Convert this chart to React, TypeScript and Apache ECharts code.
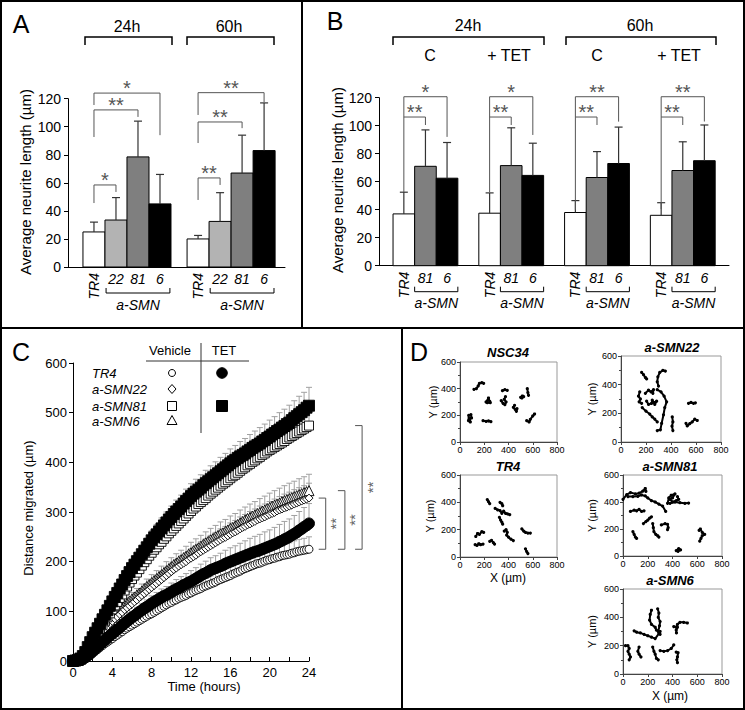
import React, { useEffect, useRef } from "react";
import * as echarts from "echarts";

const FONT = "'Liberation Sans', Arial, Helvetica, sans-serif";
const font = (size: number, style = "normal", weight = "normal") => `${style} ${weight} ${size}px ${FONT}`;

// ---------------- Panel A data ----------------
const A_TIMES = ["24h", "60h"];
const A_LINES = ["TR4", "22", "81", "6"];
const A_MEAN = [
  [25, 33.5, 78.5, 45],
  [20, 32.5, 67, 83],
];
const A_SD = [
  [7, 16, 25.5, 21],
  [2.5, 20.5, 27, 34],
];
// [time group, bar a, bar b, bracket top, left leg end, right leg end]
const A_SIG = [
  [0, 0, 1, 58.5, 45.6, 53.5],
  [0, 0, 2, 112, 92.7, 107],
  [0, 0, 3, 124, 115.5, 94],
  [1, 0, 1, 63.5, 47.8, 58.5],
  [1, 0, 2, 103.4, 88.4, 99],
  [1, 0, 3, 124.3, 108.4, 117.6],
];
const A_SIG_LABEL = ["*", "**", "*", "**", "**", "**"];

// ---------------- Panel B data ----------------
const B_TIMES = ["24h", "60h"];
const B_CONDITIONS = ["C", "+ TET", "C", "+ TET"];
const B_LINES = ["TR4", "81", "6"];
const B_MEAN = [
  [37, 71, 62.5],
  [37.5, 71.5, 64.5],
  [38, 63, 73],
  [36, 68, 75],
];
const B_SD = [
  [15.5, 26, 25.5],
  [14.5, 27, 23],
  [8.5, 18.5, 26],
  [9, 20.5, 25.5],
];
const B_SIG = [
  [0, 0, 1, 106.2, 52.6, 100.5],
  [0, 0, 2, 120.7, 106.2, 92],
  [1, 0, 1, 106.2, 52.6, 100.5],
  [1, 0, 2, 120.7, 106.2, 93.4],
  [2, 0, 1, 106.2, 40, 100.5],
  [2, 0, 2, 120.7, 106.2, 102.9],
  [3, 0, 1, 106.2, 40.5, 100.5],
  [3, 0, 2, 120.7, 106.2, 103],
];
const B_SIG_LABEL = ["**", "*", "**", "*", "**", "**", "**", "**"];

// ---------------- Panel C data ----------------
const HOURS = [0, 0.25, 0.5, 0.75, 1, 1.25, 1.5, 1.75, 2, 2.25, 2.5, 2.75, 3, 3.25, 3.5, 3.75, 4, 4.25, 4.5, 4.75, 5, 5.25, 5.5, 5.75, 6, 6.25, 6.5, 6.75, 7, 7.25, 7.5, 7.75, 8, 8.25, 8.5, 8.75, 9, 9.25, 9.5, 9.75, 10, 10.25, 10.5, 10.75, 11, 11.25, 11.5, 11.75, 12, 12.25, 12.5, 12.75, 13, 13.25, 13.5, 13.75, 14, 14.25, 14.5, 14.75, 15, 15.25, 15.5, 15.75, 16, 16.25, 16.5, 16.75, 17, 17.25, 17.5, 17.75, 18, 18.25, 18.5, 18.75, 19, 19.25, 19.5, 19.75, 20, 20.25, 20.5, 20.75, 21, 21.25, 21.5, 21.75, 22, 22.25, 22.5, 22.75, 23, 23.25, 23.5, 23.75, 24];
const TR4_VEH = [0, 0, 1, 2, 3, 5, 8, 11, 15, 19, 23, 27, 31, 35, 38, 42, 45, 49, 52, 56, 59, 63, 66, 69, 72, 75, 78, 81, 84, 87, 90, 93, 95, 98, 101, 104, 107, 110, 113, 116, 118, 121, 123, 126, 128, 130, 132, 135, 137, 140, 142, 144, 146, 149, 151, 153, 155, 157, 159, 162, 164, 166, 168, 170, 172, 175, 177, 179, 181, 184, 186, 188, 190, 192, 194, 196, 197, 199, 201, 203, 204, 206, 207, 209, 210, 212, 213, 214, 215, 217, 218, 220, 221, 222, 223, 224, 225];
const TR4_TET = [0, 0, 1, 2, 4, 7, 11, 15, 20, 24, 29, 33, 38, 42, 47, 51, 55, 59, 63, 67, 72, 76, 80, 84, 88, 91, 95, 99, 102, 106, 109, 112, 116, 119, 122, 125, 128, 131, 133, 136, 139, 142, 145, 147, 150, 153, 155, 158, 160, 163, 166, 169, 172, 175, 177, 180, 183, 185, 187, 189, 191, 193, 196, 198, 200, 202, 204, 206, 208, 210, 212, 214, 216, 218, 220, 221, 223, 225, 227, 229, 231, 233, 235, 237, 240, 242, 245, 247, 250, 253, 256, 259, 263, 266, 270, 273, 277];
const SMN22_VEH = [0, 0, 1, 3, 6, 11, 18, 25, 33, 39, 45, 51, 57, 63, 69, 75, 80, 85, 89, 94, 98, 103, 107, 111, 115, 119, 123, 128, 132, 136, 140, 144, 148, 152, 156, 160, 164, 168, 172, 176, 180, 184, 187, 191, 194, 197, 200, 204, 207, 210, 213, 217, 220, 223, 226, 229, 232, 235, 238, 241, 244, 247, 249, 252, 255, 258, 260, 263, 266, 269, 271, 274, 276, 279, 281, 284, 286, 288, 290, 293, 295, 297, 299, 302, 304, 306, 308, 310, 312, 314, 316, 318, 320, 322, 324, 326, 328];
const SMN81_VEH = [0, 1, 2, 4, 8, 14, 22, 31, 40, 48, 56, 64, 72, 80, 88, 96, 104, 112, 119, 127, 134, 142, 150, 158, 165, 172, 178, 185, 192, 199, 205, 212, 218, 224, 229, 235, 240, 246, 251, 257, 262, 267, 272, 277, 282, 287, 292, 297, 302, 307, 311, 316, 320, 324, 328, 333, 337, 341, 345, 349, 353, 357, 360, 364, 368, 372, 375, 379, 383, 387, 390, 394, 397, 401, 404, 408, 411, 415, 418, 422, 425, 428, 431, 434, 437, 440, 443, 447, 450, 453, 456, 459, 462, 465, 468, 471, 474];
const SMN81_TET = [0, 1, 2, 5, 10, 18, 28, 38, 48, 57, 66, 75, 84, 93, 102, 111, 120, 129, 137, 146, 154, 163, 171, 179, 187, 194, 201, 208, 215, 222, 229, 236, 243, 249, 255, 261, 267, 273, 279, 285, 290, 296, 301, 306, 311, 317, 322, 327, 332, 337, 341, 345, 349, 354, 358, 362, 366, 370, 374, 378, 382, 386, 390, 394, 398, 402, 405, 409, 412, 415, 418, 422, 425, 429, 432, 435, 438, 442, 445, 449, 452, 456, 459, 463, 466, 470, 473, 477, 480, 485, 489, 493, 497, 501, 505, 510, 514];
const SMN6_VEH = [0, 1, 2, 4, 8, 14, 22, 30, 38, 45, 51, 57, 63, 70, 76, 82, 88, 93, 98, 103, 107, 112, 116, 121, 125, 129, 133, 137, 141, 146, 150, 154, 158, 162, 166, 170, 174, 178, 182, 186, 190, 194, 197, 201, 204, 208, 211, 215, 218, 222, 225, 228, 231, 235, 238, 241, 244, 247, 250, 253, 256, 258, 261, 264, 267, 269, 272, 275, 278, 281, 284, 287, 289, 292, 294, 297, 299, 302, 304, 307, 309, 312, 314, 316, 318, 321, 323, 325, 327, 329, 331, 333, 335, 337, 339, 341, 343];
// standard deviations, every half hour
const SD_HOURS = [0, 0.5, 1, 1.5, 2, 2.5, 3, 3.5, 4, 4.5, 5, 5.5, 6, 6.5, 7, 7.5, 8, 8.5, 9, 9.5, 10, 10.5, 11, 11.5, 12, 12.5, 13, 13.5, 14, 14.5, 15, 15.5, 16, 16.5, 17, 17.5, 18, 18.5, 19, 19.5, 20, 20.5, 21, 21.5, 22, 22.5, 23, 23.5, 24];
const SD_TR4_VEH = [0, 0, 1, 1, 2, 3, 4, 5, 5, 6, 7, 7, 8, 8, 9, 10, 10, 11, 11, 12, 12, 13, 13, 14, 14, 15, 15, 16, 16, 17, 17, 17, 18, 18, 19, 19, 20, 20, 21, 21, 21, 22, 22, 23, 23, 24, 24, 24, 25];
const SD_TR4_TET = [0, 0, 1, 2, 3, 4, 5, 6, 7, 8, 9, 10, 11, 12, 13, 14, 15, 16, 17, 17, 18, 19, 20, 21, 22, 22, 23, 24, 25, 25, 26, 27, 28, 28, 29, 30, 31, 31, 32, 33, 33, 34, 35, 36, 36, 37, 38, 39, 40];
const SD_SMN22_VEH = [0, 0, 1, 2, 3, 4, 5, 7, 8, 9, 10, 11, 11, 12, 13, 14, 14, 15, 16, 16, 17, 17, 18, 18, 19, 19, 20, 20, 21, 21, 22, 22, 23, 23, 24, 24, 25, 25, 26, 26, 26, 27, 27, 28, 28, 29, 29, 29, 30];
const SD_SMN81_VEH = [0, 0, 1, 2, 4, 5, 7, 8, 9, 10, 11, 12, 13, 14, 14, 15, 16, 16, 17, 18, 18, 19, 19, 20, 20, 21, 21, 22, 22, 23, 23, 24, 24, 25, 25, 25, 26, 26, 27, 27, 27, 28, 28, 28, 29, 29, 29, 30, 30];
const SD_SMN81_TET = [0, 0, 1, 3, 5, 7, 9, 10, 12, 13, 14, 15, 16, 17, 18, 18, 19, 20, 21, 21, 22, 23, 23, 24, 25, 25, 26, 26, 27, 27, 28, 28, 29, 29, 30, 30, 31, 31, 32, 32, 33, 33, 34, 34, 35, 35, 36, 36, 37];
const SD_SMN6_VEH = [0, 0, 1, 2, 4, 5, 6, 8, 9, 10, 11, 12, 13, 13, 14, 15, 16, 16, 17, 18, 18, 19, 19, 20, 21, 21, 22, 22, 23, 23, 24, 24, 25, 25, 26, 26, 27, 27, 28, 28, 29, 29, 30, 30, 31, 31, 32, 32, 33];
const C_LEGEND_ROWS = ["TR4", "a-SMN22", "a-SMN81", "a-SMN6"];

// ---------------- Panel D data (x, y in µm) ----------------
const D_NSC34 = [
  [[115, 395], [135, 400], [150, 420], [160, 440], [180, 445], [195, 440]],
  [[215, 300], [235, 330], [245, 305], [250, 295], [225, 295]],
  [[70, 160], [72, 200], [90, 205], [95, 180], [80, 175], [85, 150]],
  [[190, 160], [215, 155], [235, 158], [255, 152]],
  [[340, 310], [355, 290], [370, 280], [380, 300], [365, 320], [375, 340]],
  [[350, 385], [370, 392], [390, 388]],
  [[450, 275], [440, 260], [455, 245], [465, 230], [470, 250]],
  [[500, 335], [515, 345], [525, 340], [510, 330]],
  [[555, 400], [560, 370], [565, 350]],
  [[550, 160], [570, 150], [580, 170], [600, 195], [615, 210]],
];
const D_SMN22 = [
  [[165, 485], [180, 470], [195, 450], [205, 440]],
  [[300, 390], [290, 420], [295, 455], [310, 485], [335, 500], [355, 495]],
  [[150, 350], [140, 320], [155, 300], [145, 280], [165, 270]],
  [[195, 340], [220, 362], [240, 350], [260, 365], [255, 340]],
  [[205, 285], [220, 262], [245, 270], [250, 292], [265, 275], [285, 285], [270, 262]],
  [[170, 240], [200, 215], [230, 195], [250, 175], [270, 160], [290, 140]],
  [[290, 365], [320, 350], [345, 320], [365, 280], [350, 240], [340, 190], [325, 130], [315, 85], [290, 80]],
  [[410, 175], [415, 140], [408, 110], [415, 80]],
  [[520, 130], [530, 112], [550, 128], [570, 140], [590, 160], [610, 150]],
  [[540, 270], [560, 276], [580, 270], [595, 273]],
];
const D_TR4 = [
  [[225, 420], [235, 405], [245, 390]],
  [[330, 400], [345, 390], [352, 375]],
  [[290, 355], [310, 345], [330, 340], [345, 320], [360, 335], [375, 320], [392, 315], [410, 310]],
  [[325, 290], [335, 270], [345, 255], [352, 240]],
  [[130, 150], [145, 172], [160, 165], [180, 185], [195, 180]],
  [[125, 90], [140, 85], [155, 97], [170, 90], [190, 95]],
  [[245, 115], [260, 122], [275, 105], [285, 95]],
  [[365, 190], [380, 200], [390, 180], [385, 160], [400, 145], [420, 130], [440, 120]],
  [[510, 205], [525, 190], [540, 180], [560, 175], [580, 175]],
  [[540, 60], [550, 40], [560, 25]],
];
const D_SMN81 = [
  [[0, 420], [30, 455], [60, 470], [100, 460], [130, 465], [160, 480], [180, 500], [185, 478]],
  [[40, 440], [80, 440], [120, 442], [150, 452], [180, 445], [200, 430], [230, 410], [260, 400], [290, 385], [320, 370], [345, 330]],
  [[60, 330], [90, 340], [110, 335], [130, 345], [150, 330], [170, 335]],
  [[360, 390], [370, 430], [390, 450], [420, 460], [400, 430], [380, 420], [400, 400], [430, 410], [450, 420], [440, 440]],
  [[380, 390], [420, 400], [460, 395], [500, 390], [530, 392]],
  [[165, 240], [185, 255], [200, 265], [215, 280], [230, 290]],
  [[240, 240], [245, 210], [250, 180], [265, 160], [280, 150], [290, 140]],
  [[310, 230], [340, 240], [360, 235], [365, 210], [360, 195]],
  [[80, 180], [90, 160], [100, 140], [110, 130]],
  [[430, 40], [450, 55], [465, 45], [445, 35]],
  [[615, 190], [625, 200], [640, 175], [660, 160], [640, 150], [630, 130], [620, 110]],
];
const D_SMN6 = [
  [[230, 450], [220, 420], [215, 380], [230, 350], [260, 330], [270, 310]],
  [[280, 460], [290, 430], [285, 400], [300, 370], [295, 340], [285, 300], [300, 280]],
  [[90, 305], [110, 295], [140, 290], [170, 280], [200, 270], [230, 260], [260, 250], [290, 285], [300, 300]],
  [[410, 335], [430, 330], [440, 350], [460, 365], [490, 365], [520, 360]],
  [[440, 330], [430, 310], [432, 290]],
  [[20, 200], [40, 200], [50, 180], [40, 160], [50, 140], [60, 120], [50, 100]],
  [[130, 190], [120, 160], [130, 140], [145, 120]],
  [[240, 190], [250, 160], [260, 140], [270, 110], [285, 100]],
  [[300, 165], [330, 160], [360, 165], [390, 180], [410, 205]],
  [[430, 155], [445, 150], [440, 120], [435, 100], [440, 80]],
];
const D_TITLES = ["NSC34", "a-SMN22", "TR4", "a-SMN81", "a-SMN6"];

// ---------------- layout ----------------
const A_GRID = { left: 68, top: 98.7, width: 217, height: 168.3 };
const A_XMAX = 9.86, A_OFF = 0.68, A_GSTEP = 4.73;
const B_GRID = { left: 379, top: 97.7, width: 350, height: 168 };
const B_XMAX = 16.2, B_OFF = 0.65, B_GSTEP = 3.97;
const C_GRID = { left: 73, top: 363, width: 236, height: 298 };
const D_GRIDS = [
  { left: 460, top: 362, width: 97, height: 80 },
  { left: 621, top: 356, width: 100, height: 86 },
  { left: 460, top: 475, width: 97, height: 82 },
  { left: 623, top: 475, width: 99, height: 81 },
  { left: 623, top: 589, width: 99, height: 85 },
];
const D_TITLE_POS = [[508, 352], [672, 347], [508, 466], [670, 466], [670, 580]];
const D_YTITLE_X = [433, 592, 430, 592, 592];
const D_XTITLE = [null, null, [508, 578], null, [670, 696]];
const C_BRACKET_X = [25.7, 27.65, 29.4];

function txt(x: number, y: number, text: string, size: number, o: any = {}) {
  const align = o.align || "center";
  return {
    type: "text",
    x,
    y,
    rotation: o.rotation || 0,
    silent: true,
    z: 10,
    style: {
      text,
      font: font(size, o.style || "normal", o.weight || "normal"),
      fill: o.fill || "#000",
      textAlign: align,
      align,
      textVerticalAlign: "middle",
      verticalAlign: "middle",
    },
  };
}
function ln(x1: number, y1: number, x2: number, y2: number, w = 1, c = "#000") {
  return { type: "line", silent: true, z: 10, shape: { x1, y1, x2, y2 }, style: { stroke: c, lineWidth: w } };
}
function pl(points: number[][], w = 1, c = "#000") {
  return { type: "polyline", silent: true, z: 10, shape: { points }, style: { stroke: c, lineWidth: w, fill: null } };
}
function ctext(x: number, y: number, text: string, f: string, fill: string, align = "center", rotation = 0) {
  return { type: "text", x, y, rotation, style: { text, font: f, fill, textAlign: align, align, textVerticalAlign: "middle", verticalAlign: "middle" } };
}

function barRender(colors: string[], labels: string[]) {
  return (params: any, api: any) => {
    const x = api.value(0), mean = api.value(1), sd = api.value(2);
    const ci = api.value(3), li = api.value(4);
    const w = api.size([1, 0])[0];
    const base = api.coord([x, 0]);
    const top = api.coord([x, mean]);
    const err = api.coord([x, mean + sd]);
    const lab = labels[li];
    const children: any[] = [
      { type: "rect", shape: { x: base[0] - w / 2, y: top[1], width: w, height: base[1] - top[1] }, style: { fill: colors[ci], stroke: "#000", lineWidth: 1 } },
      { type: "line", shape: { x1: top[0], y1: top[1], x2: err[0], y2: err[1] }, style: { stroke: "#333", lineWidth: 1.2 } },
      { type: "line", shape: { x1: err[0] - 4, y1: err[1], x2: err[0] + 4, y2: err[1] }, style: { stroke: "#333", lineWidth: 1.2 } },
    ];
    if (li === 0) children.push(ctext(base[0], base[1] + 6, lab, font(14, "italic"), "#000", "right", Math.PI / 2));
    else children.push(ctext(base[0], base[1] + 12, lab, font(14, "italic"), "#000"));
    return { type: "group", children };
  };
}

function sigRender(labels: string[]) {
  return (params: any, api: any) => {
    const xa = api.value(0), top = api.value(1), xb = api.value(2), le = api.value(3), re = api.value(4), li = api.value(5);
    const pA = api.coord([xa, top]);
    const pB = api.coord([xb, top]);
    const pL = api.coord([xa, le]);
    const pR = api.coord([xb, re]);
    return {
      type: "group",
      children: [
        { type: "polyline", shape: { points: [[pL[0], pL[1]], [pA[0], pA[1]], [pB[0], pB[1]], [pR[0], pR[1]]] }, style: { stroke: "#555", lineWidth: 1, fill: null } },
        ctext((pA[0] + pB[0]) / 2, pA[1] - 5, labels[li], font(20), "#555"),
      ],
    };
  };
}

function groupRender(params: any, api: any) {
  const l = api.coord([api.value(0), 0]);
  const r = api.coord([api.value(2), 0]);
  const y = l[1] + 26;
  return {
    type: "group",
    children: [
      { type: "polyline", shape: { points: [[l[0], y - 5], [l[0], y], [r[0], y], [r[0], y - 5]] }, style: { stroke: "#000", lineWidth: 1, fill: null } },
      ctext((l[0] + r[0]) / 2, l[1] + 37.5, "a-SMN", font(14, "italic"), "#000"),
    ],
  };
}

function errRender(params: any, api: any) {
  const t = api.value(0), m = api.value(1), sd = api.value(2);
  const p = api.coord([t, m]);
  const q = api.coord([t, m + sd]);
  return {
    type: "group",
    children: [
      { type: "line", shape: { x1: p[0], y1: p[1], x2: q[0], y2: q[1] }, style: { stroke: "#a0a0a0", lineWidth: 1 } },
      { type: "line", shape: { x1: q[0] - 3, y1: q[1], x2: q[0] + 3, y2: q[1] }, style: { stroke: "#a0a0a0", lineWidth: 1 } },
    ],
  };
}

function cBracketRender(params: any, api: any) {
  const x = api.value(0), top = api.value(1), bot = api.value(2);
  const p = api.coord([x, top]);
  const q = api.coord([x, bot]);
  const my = (p[1] + q[1]) / 2;
  return {
    type: "group",
    children: [
      { type: "polyline", shape: { points: [[p[0] - 7, p[1]], [p[0], p[1]], [q[0], q[1]], [q[0] - 7, q[1]]] }, style: { stroke: "#555", lineWidth: 1, fill: null } },
      ctext(p[0] + 10, my, "**", font(15), "#666", "center", Math.PI / 2),
    ],
  };
}

function buildOption() {
  const aBars: number[][] = [];
  A_MEAN.forEach((grp, g) => grp.forEach((m, i) => aBars.push([A_OFF + g * A_GSTEP + i + 0.5, m, A_SD[g][i], i, i])));
  const bBars: number[][] = [];
  B_MEAN.forEach((grp, g) => grp.forEach((m, i) => bBars.push([B_OFF + g * B_GSTEP + i + 0.5, m, B_SD[g][i], i, i])));
  const aSig = A_SIG.map((s, k) => [A_OFF + s[0] * A_GSTEP + s[1] + 0.5, s[3], A_OFF + s[0] * A_GSTEP + s[2] + 0.5, s[4], s[5], k]);
  const bSig = B_SIG.map((s, k) => [B_OFF + s[0] * B_GSTEP + s[1] + 0.5, s[3], B_OFF + s[0] * B_GSTEP + s[2] + 0.5, s[4], s[5], k]);
  const aGroups = A_TIMES.map((_, g) => [A_OFF + g * A_GSTEP + 1.05, 0, A_OFF + g * A_GSTEP + 3.95]);
  const bGroups = B_CONDITIONS.map((_, g) => [B_OFF + g * B_GSTEP + 1.0, 0, B_OFF + g * B_GSTEP + 3.0]);

  const cSeries = [
    { values: SMN6_VEH, sd: SD_SMN6_VEH, symbol: "triangle", size: 10, fill: "#fff" },
    { values: SMN22_VEH, sd: SD_SMN22_VEH, symbol: "diamond", size: 8, fill: "#fff" },
    { values: TR4_VEH, sd: SD_TR4_VEH, symbol: "circle", size: 8, fill: "#fff" },
    { values: SMN81_VEH, sd: SD_SMN81_VEH, symbol: "rect", size: 9, fill: "#fff" },
    { values: TR4_TET, sd: SD_TR4_TET, symbol: "circle", size: 11, fill: "#000" },
    { values: SMN81_TET, sd: SD_SMN81_TET, symbol: "rect", size: 11, fill: "#000" },
  ];
  const errData: number[][] = [];
  cSeries.forEach((s) =>
    SD_HOURS.forEach((t, i) => {
      const idx = HOURS.indexOf(t);
      if (idx >= 0) errData.push([t, s.values[idx], s.sd[i]]);
    })
  );
  const last = HOURS.length - 1;
  const cBrackets = [
    [C_BRACKET_X[0], SMN22_VEH[last], TR4_VEH[last]],
    [C_BRACKET_X[1], SMN6_VEH[last], TR4_VEH[last]],
    [C_BRACKET_X[2], SMN81_VEH[last], TR4_VEH[last]],
  ];

  const barYAxis = (gridIndex: number) => ({
    gridIndex,
    type: "value",
    min: 0,
    max: 120,
    interval: 20,
    axisLine: { show: true, lineStyle: { color: "#000", width: 1 } },
    axisTick: { show: true, length: 4, lineStyle: { color: "#000" } },
    axisLabel: { fontSize: 14, color: "#000", fontFamily: FONT, margin: 7 },
    splitLine: { show: false },
  });
  const barXAxis = (gridIndex: number, max: number) => ({
    gridIndex,
    type: "value",
    min: 0,
    max,
    axisLine: { show: true, onZero: false, lineStyle: { color: "#000", width: 1 } },
    axisTick: { show: false },
    axisLabel: { show: false },
    splitLine: { show: false },
  });

  const xAxis: any[] = [
    barXAxis(0, A_XMAX),
    barXAxis(1, B_XMAX),
    {
      gridIndex: 2,
      type: "value",
      min: 0,
      max: 24,
      interval: 2,
      axisLine: { show: true, onZero: false, lineStyle: { color: "#000" } },
      axisTick: { show: true, inside: true, length: 4, lineStyle: { color: "#000" } },
      axisLabel: { fontSize: 13, color: "#000", fontFamily: FONT, margin: 5, formatter: (v: number) => (v % 4 === 0 ? String(v) : "") },
      splitLine: { show: false },
    },
  ];
  const yAxis: any[] = [
    barYAxis(0),
    barYAxis(1),
    {
      gridIndex: 2,
      type: "value",
      min: 0,
      max: 600,
      interval: 100,
      axisLine: { show: true, onZero: false, lineStyle: { color: "#000" } },
      axisTick: { show: true, length: 4, lineStyle: { color: "#000" } },
      axisLabel: { fontSize: 13, color: "#000", fontFamily: FONT, margin: 6 },
      splitLine: { show: false },
    },
  ];
  D_GRIDS.forEach((_, k) => {
    xAxis.push({
      gridIndex: 3 + k,
      type: "value",
      min: 0,
      max: 800,
      interval: 200,
      axisLine: { show: true, onZero: false, lineStyle: { color: "#444" } },
      axisTick: { show: true, length: 3, lineStyle: { color: "#444" } },
      axisLabel: { fontSize: 9, color: "#000", fontFamily: FONT, margin: 3 },
      splitLine: { show: false },
    });
    yAxis.push({
      gridIndex: 3 + k,
      type: "value",
      min: 0,
      max: 600,
      interval: 200,
      axisLine: { show: true, onZero: false, lineStyle: { color: "#444" } },
      axisTick: { show: true, length: 3, lineStyle: { color: "#444" } },
      minorTick: { show: true, splitNumber: 2, length: 2, lineStyle: { color: "#444" } },
      axisLabel: { fontSize: 9, color: "#000", fontFamily: FONT, margin: 4 },
      splitLine: { show: false },
    });
  });

  const grid: any[] = [A_GRID, B_GRID, C_GRID].map((g) => ({ ...g, containLabel: false }));
  D_GRIDS.forEach((g) => grid.push({ ...g, containLabel: false, show: true, borderColor: "#999", borderWidth: 1, backgroundColor: "transparent" }));

  const series: any[] = [
    { type: "custom", xAxisIndex: 0, yAxisIndex: 0, renderItem: barRender(["#ffffff", "#b3b3b3", "#7f7f7f", "#000000"], A_LINES), data: aBars, encode: { x: 0, y: 1 }, silent: true, z: 2 },
    { type: "custom", xAxisIndex: 0, yAxisIndex: 0, renderItem: sigRender(A_SIG_LABEL), data: aSig, encode: { x: 0, y: 1 }, silent: true, z: 3 },
    { type: "custom", xAxisIndex: 0, yAxisIndex: 0, renderItem: groupRender, data: aGroups, encode: { x: 0, y: 1 }, silent: true, z: 3 },
    { type: "custom", xAxisIndex: 1, yAxisIndex: 1, renderItem: barRender(["#ffffff", "#7f7f7f", "#000000"], B_LINES), data: bBars, encode: { x: 0, y: 1 }, silent: true, z: 2 },
    { type: "custom", xAxisIndex: 1, yAxisIndex: 1, renderItem: sigRender(B_SIG_LABEL), data: bSig, encode: { x: 0, y: 1 }, silent: true, z: 3 },
    { type: "custom", xAxisIndex: 1, yAxisIndex: 1, renderItem: groupRender, data: bGroups, encode: { x: 0, y: 1 }, silent: true, z: 3 },
    { type: "custom", xAxisIndex: 2, yAxisIndex: 2, renderItem: errRender, data: errData, encode: { x: 0, y: 1 }, silent: true, z: 1 },
  ];
  cSeries.forEach((s) => {
    series.push({
      type: "scatter",
      xAxisIndex: 2,
      yAxisIndex: 2,
      symbol: s.symbol,
      symbolSize: s.size,
      data: HOURS.map((t, i) => [t, s.values[i]]),
      itemStyle: { color: s.fill, borderColor: "#000", borderWidth: 0.9, opacity: 1 },
      silent: true,
      z: 2,
    });
  });
  series.push({ type: "custom", xAxisIndex: 2, yAxisIndex: 2, renderItem: cBracketRender, data: cBrackets, encode: { x: 0, y: 1 }, silent: true, z: 3 });

  [D_NSC34, D_SMN22, D_TR4, D_SMN81, D_SMN6].forEach((tracks, k) => {
    tracks.forEach((tr) => {
      series.push({
        type: "line",
        xAxisIndex: 3 + k,
        yAxisIndex: 3 + k,
        data: tr,
        symbol: "circle",
        symbolSize: 3.2,
        showSymbol: true,
        lineStyle: { color: "#000", width: 2 },
        itemStyle: { color: "#000" },
        silent: true,
        z: 3,
      });
    });
  });

  const g: any[] = [
    { type: "rect", silent: true, z: 20, shape: { x: 1, y: 1, width: 743, height: 708 }, style: { fill: null, stroke: "#000", lineWidth: 2 } },
    ln(302, 0, 302, 328, 2),
    ln(0, 328, 745, 328, 2),
    ln(402, 328, 402, 710, 2),
    txt(21, 24, "A", 25),
    txt(335, 21, "B", 25),
    txt(21, 352, "C", 25),
    txt(419, 352, "D", 25),
    txt(127, 26, A_TIMES[0], 16),
    txt(229, 26, A_TIMES[1], 16),
    pl([[85, 45], [85, 37], [172, 37], [172, 45]], 1.5),
    pl([[187, 45], [187, 37], [274, 37], [274, 45]], 1.5),
    txt(25, 182, "Average neurite length (µm)", 15, { rotation: Math.PI / 2 }),
    txt(468, 25, B_TIMES[0], 16),
    txt(640, 25, B_TIMES[1], 16),
    pl([[393, 45], [393, 37], [544, 37], [544, 45]], 1.5),
    pl([[566, 45], [566, 37], [716, 37], [716, 45]], 1.5),
    txt(430, 55, B_CONDITIONS[0], 16),
    txt(509, 55, B_CONDITIONS[1], 16),
    txt(597, 55, B_CONDITIONS[2], 16),
    txt(679, 55, B_CONDITIONS[3], 16),
    txt(337, 180, "Average neurite length (µm)", 15, { rotation: Math.PI / 2 }),
    txt(28, 508, "Distance migrated (µm)", 13, { rotation: Math.PI / 2 }),
    txt(204, 686, "Time (hours)", 13),
    txt(170, 350, "Vehicle", 13),
    txt(224, 350, "TET", 13),
    ln(146, 361, 249, 361, 1, "#333"),
    ln(201, 343, 201, 433, 1, "#333"),
    txt(92, 373, C_LEGEND_ROWS[0], 13, { align: "left", style: "italic" }),
    txt(92, 389, C_LEGEND_ROWS[1], 13, { align: "left", style: "italic" }),
    txt(92, 406, C_LEGEND_ROWS[2], 13, { align: "left", style: "italic" }),
    txt(92, 421, C_LEGEND_ROWS[3], 13, { align: "left", style: "italic" }),
    { type: "circle", silent: true, z: 10, shape: { cx: 172, cy: 373, r: 3.5 }, style: { fill: "#fff", stroke: "#000", lineWidth: 1 } },
    { type: "polygon", silent: true, z: 10, shape: { points: [[172, 384.5], [176, 389], [172, 393.5], [168, 389]] }, style: { fill: "#fff", stroke: "#000", lineWidth: 1 } },
    { type: "rect", silent: true, z: 10, shape: { x: 167.5, y: 401.5, width: 9, height: 9 }, style: { fill: "#fff", stroke: "#000", lineWidth: 1 } },
    { type: "polygon", silent: true, z: 10, shape: { points: [[172, 415.5], [177, 424.5], [167, 424.5]] }, style: { fill: "#fff", stroke: "#000", lineWidth: 1 } },
    { type: "circle", silent: true, z: 10, shape: { cx: 222, cy: 373, r: 5.3 }, style: { fill: "#000", stroke: "#000", lineWidth: 1 } },
    { type: "rect", silent: true, z: 10, shape: { x: 216.5, y: 400.5, width: 11, height: 11 }, style: { fill: "#000", stroke: "#000", lineWidth: 1 } },
  ];
  D_GRIDS.forEach((gr, k) => {
    g.push(txt(D_TITLE_POS[k][0], D_TITLE_POS[k][1], D_TITLES[k], 13, { style: "italic", weight: "bold" }));
    g.push(txt(D_YTITLE_X[k], gr.top + gr.height / 2, "Y (µm)", 11, { rotation: Math.PI / 2 }));
    const xt = D_XTITLE[k];
    if (xt) g.push(txt(xt[0], xt[1], "X (µm)", 12));
  });

  return {
    animation: false,
    backgroundColor: "#fff",
    textStyle: { fontFamily: FONT },
    grid,
    xAxis,
    yAxis,
    series,
    graphic: { elements: g },
  };
}

export default function App() {
  const ref = useRef<HTMLDivElement>(null);
  useEffect(() => {
    if (!ref.current) return;
    const chart = echarts.init(ref.current, undefined, { renderer: "svg" });
    chart.setOption(buildOption() as any);
    return () => chart.dispose();
  }, []);
  return <div ref={ref} style={{ position: "absolute", left: 0, top: 0, width: 745, height: 710, background: "#fff" }} />;
}
